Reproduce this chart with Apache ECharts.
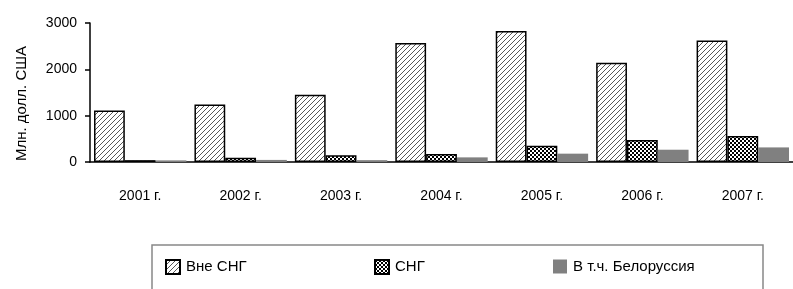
<!DOCTYPE html>
<html>
<head>
<meta charset="utf-8">
<script src="https://cdn.jsdelivr.net/npm/echarts@6/dist/echarts.min.js"></script>
<style>
html, body { margin: 0; padding: 0; background: #fff; }
#chart { width: 793px; height: 289px; }
</style>
</head>
<body>
<div id="chart"></div>
<script>
var years = ['2001 г.', '2002 г.', '2003 г.', '2004 г.', '2005 г.', '2006 г.', '2007 г.'];
var outsideCis = [1110, 1240, 1450, 2570, 2830, 2140, 2620];
var cis = [40, 90, 145, 175, 350, 475, 560];
var belarus = [35, 45, 40, 100, 180, 265, 315];
var yTicks = [0, 1000, 2000, 3000];

var font = '"Liberation Sans", Arial, sans-serif';

// hatch pattern for Вне СНГ
function makeHatch() {
	var c = document.createElement('canvas');
	c.width = 5; c.height = 5;
	var g = c.getContext('2d');
	g.fillStyle = '#fff';
	g.fillRect(0, 0, 5, 5);
	g.strokeStyle = '#444';
	g.lineWidth = 0.9;
	g.beginPath();
	g.moveTo(0, 5); g.lineTo(5, 0);
	g.moveTo(-1, 1); g.lineTo(1, -1);
	g.moveTo(4, 6); g.lineTo(6, 4);
	g.stroke();
	return c;
}
// checker pattern for СНГ
function makeChecker() {
	var c = document.createElement('canvas');
	c.width = 4; c.height = 4;
	var g = c.getContext('2d');
	g.fillStyle = '#fff';
	g.fillRect(0, 0, 4, 4);
	g.fillStyle = '#000';
	g.fillRect(0, 0, 2, 2);
	g.fillRect(2, 2, 2, 2);
	return c;
}

var hatch = { image: makeHatch(), repeat: 'repeat' };
var checker = { image: makeChecker(), repeat: 'repeat' };

var myChart = echarts.init(document.getElementById('chart'));

function legendAt(left, name) {
	return {
		left: left,
		top: 259,
		data: [{ name: name, icon: 'rect' }],
		itemWidth: 14,
		itemHeight: 14,
		itemGap: 0,
		padding: 0,
		textStyle: { fontFamily: font, fontSize: 15, color: '#000', padding: [0, 0, 0, 1] }
	};
}

var option = {
	animation: false,
	grid: { left: 90, top: 23, width: 707, height: 139, containLabel: false },
	legend: [
		legendAt(165, 'Вне СНГ'),
		legendAt(374, 'СНГ'),
		legendAt(553, 'В т.ч. Белоруссия')
	],
	graphic: [{
		type: 'rect',
		shape: { x: 152, y: 245, width: 611, height: 50 },
		style: { fill: 'none', stroke: '#888', lineWidth: 1.5 },
		silent: true
	}],
	xAxis: {
		type: 'category',
		data: years,
		axisLine: { lineStyle: { color: '#000', width: 1.5 } },
		axisTick: { length: 5, lineStyle: { color: '#000', width: 1.5 } },
		axisLabel: { margin: 27, fontFamily: font, fontSize: 14, color: '#000' }
	},
	yAxis: {
		type: 'value',
		min: 0,
		max: 3000,
		interval: 1000,
		name: 'Млн. долл. США',
		nameLocation: 'middle',
		nameGap: 61,
		nameTextStyle: { fontFamily: font, fontSize: 15, color: '#000', padding: [0, 22, 0, 0] },
		splitLine: { show: false },
		axisLine: { show: true, lineStyle: { color: '#000', width: 1.5 } },
		axisTick: { show: true, length: 5, lineStyle: { color: '#000', width: 1.5 } },
		axisLabel: {
			margin: 13, fontFamily: font, fontSize: 14, color: '#000',
			formatter: function(v) { return yTicks.indexOf(v) >= 0 ? String(v) : ''; }
		}
	},
	series: [{
		name: 'Вне СНГ',
		type: 'bar',
		barGap: '0%',
		barCategoryGap: '8%',
		data: outsideCis,
		itemStyle: { color: hatch, borderColor: '#000', borderWidth: 1.5 }
	}, {
		name: 'СНГ',
		type: 'bar',
		data: cis,
		itemStyle: { color: checker, borderColor: '#000', borderWidth: 1.5 }
	}, {
		name: 'В т.ч. Белоруссия',
		type: 'bar',
		data: belarus,
		itemStyle: { color: '#808080' }
	}]
};

myChart.setOption(option);
</script>
</body>
</html>
